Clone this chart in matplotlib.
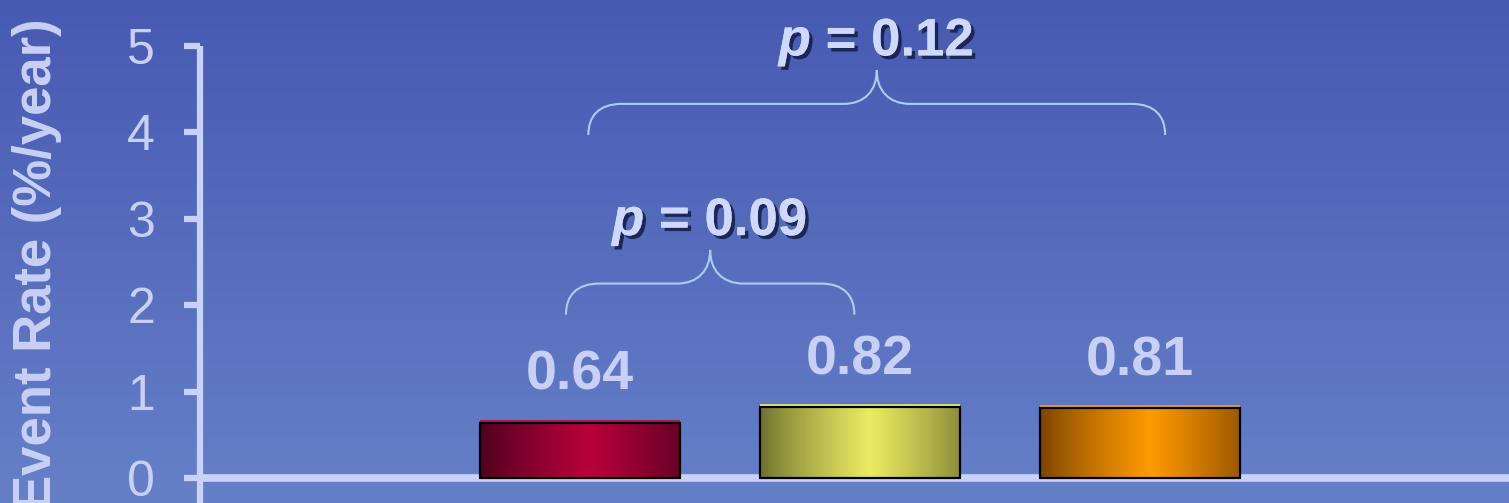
import numpy as np
import matplotlib
matplotlib.use("Agg")
import matplotlib.pyplot as plt
import matplotlib.patheffects as pe
from matplotlib.path import Path
from matplotlib.patches import PathPatch
from matplotlib.colors import to_rgb

plt.rcParams['font.family'] = ['Liberation Sans', 'DejaVu Sans']
plt.rcParams['mathtext.fontset'] = 'custom'
plt.rcParams['mathtext.bfit'] = 'Liberation Sans:italic:bold'
plt.rcParams['mathtext.bf'] = 'Liberation Sans:bold'

# Dados
grupos = ["A", "B", "C"]
taxas = [0.64, 0.82, 0.81]
rotulos = ["0.64", "0.82", "0.81"]
cores_borda = ["#4a001e", "#6c6e2e", "#784200"]
cores_centro = ["#b8003c", "#ecec62", "#ff9a00"]
comparacoes = [(0, 1), (0, 2)]
p_valores = ["0.09", "0.12"]
niveis_chave = [1.89, 3.97]
folga_esq = [-0.05, 0.03]
folga_dir = [-0.02, 0.09]

TEXTO = "#c9d0f7"
LINHA = "#c8d2fa"

fig = plt.figure(figsize=(15.09, 5.03), dpi=100)

# Fundo com degradê vertical
bg = fig.add_axes([0, 0, 1, 1])
topo = np.array(to_rgb("#465ab2"))
base = np.array(to_rgb("#6680c8"))
t = np.linspace(0, 1, 256)[:, None]
grad = topo[None, None, :] * (1 - t[..., None]) + base[None, None, :] * t[..., None]
bg.imshow(grad, aspect="auto", extent=[0, 1, 0, 1])
bg.axis("off")

ax = fig.add_axes([200 / 1509, 0, 1309 / 1509, 457 / 503])
ax.patch.set_alpha(0)
x = np.arange(len(grupos))

barras = ax.bar(x, taxas, width=0.714, facecolor="none", edgecolor="black", linewidth=1.6, zorder=3)

# Degradê horizontal em cada barra
s = np.linspace(0, 1, 200)
perfil = np.clip(1 - np.abs(s - 0.55) / 0.55, 0, 1) ** 0.8
for b, cb, cc in zip(barras, cores_borda, cores_centro):
    c0 = np.array(to_rgb(cb))
    c1 = np.array(to_rgb(cc))
    img = c0[None, None, :] * (1 - perfil[None, :, None]) + c1[None, None, :] * perfil[None, :, None]
    im = ax.imshow(img, aspect="auto", zorder=2,
                   extent=[b.get_x(), b.get_x() + b.get_width(), 0, b.get_height()])
    im.set_clip_path(b)
    # fio claro no topo da barra
    ax.plot([b.get_x(), b.get_x() + b.get_width()], [b.get_height() + 0.02] * 2,
            color=cc, linewidth=1.2, zorder=3.5, solid_capstyle="butt")

ax.set_xlim(-1.357, 3.318)
ax.set_ylim(-0.29, 5)

# Rótulos de valor
for xi, v, r in zip(x, taxas, rotulos):
    ax.text(xi, v + 0.38, r, ha="center", va="baseline", fontsize=40,
            fontweight="bold", color=TEXTO)

# Chaves com valores de p
sombra = [pe.withSimplePatchShadow(offset=(2.5, -2.5), shadow_rgbFace="#15204a", alpha=0.9), pe.Normal()]
for (i, j), pv, y0, fe, fd in zip(comparacoes, p_valores, niveis_chave, folga_esq, folga_dir):
    x0 = x[i] + fe
    x1 = x[j] + fd
    xm = (x0 + x1) / 2
    h = 0.36
    tip = 0.39
    r = 0.12
    verts = [(x0, y0), (x0, y0 + h * 0.6), (x0 + r * 0.3, y0 + h), (x0 + r, y0 + h),
             (xm - r, y0 + h),
             (xm - r * 0.35, y0 + h), (xm, y0 + h + tip * 0.4), (xm, y0 + h + tip),
             (xm, y0 + h + tip * 0.4), (xm + r * 0.35, y0 + h), (xm + r, y0 + h),
             (x1 - r, y0 + h),
             (x1 - r * 0.3, y0 + h), (x1, y0 + h * 0.6), (x1, y0)]
    codes = [Path.MOVETO, Path.CURVE4, Path.CURVE4, Path.CURVE4,
             Path.LINETO,
             Path.CURVE4, Path.CURVE4, Path.CURVE4,
             Path.CURVE4, Path.CURVE4, Path.CURVE4,
             Path.LINETO,
             Path.CURVE4, Path.CURVE4, Path.CURVE4]
    ax.add_patch(PathPatch(Path(verts, codes), facecolor="none", edgecolor="#a9cff6",
                           linewidth=1.5, clip_on=False, zorder=4))
    ax.text(xm, y0 + h + tip + 0.17, r"$\mathbfit{p}$ = " + pv, ha="center", va="baseline",
            fontsize=38, fontweight="bold", color="#cfd9ff", path_effects=sombra,
            clip_on=False)

# Eixos
for lado in ["top", "right", "bottom"]:
    ax.spines[lado].set_visible(False)
ax.spines["left"].set_color(LINHA)
ax.spines["left"].set_linewidth(4.5)
ax.spines["left"].set_capstyle("butt")
ax.axhline(0, color=LINHA, linewidth=5.5, zorder=1)
ax.set_xticks([])
ax.set_yticks(range(0, 6))
ax.tick_params(axis="y", colors=LINHA, labelcolor=TEXTO, length=11.5, width=4.5,
               labelsize=36, pad=21)

fig.text(37 / 1509, 1 - 264 / 503, "Event Rate (%/year)", rotation=90, ha="center",
         va="center", fontsize=38, fontweight="bold", color=TEXTO)

fig.savefig("out.png", dpi=100)
